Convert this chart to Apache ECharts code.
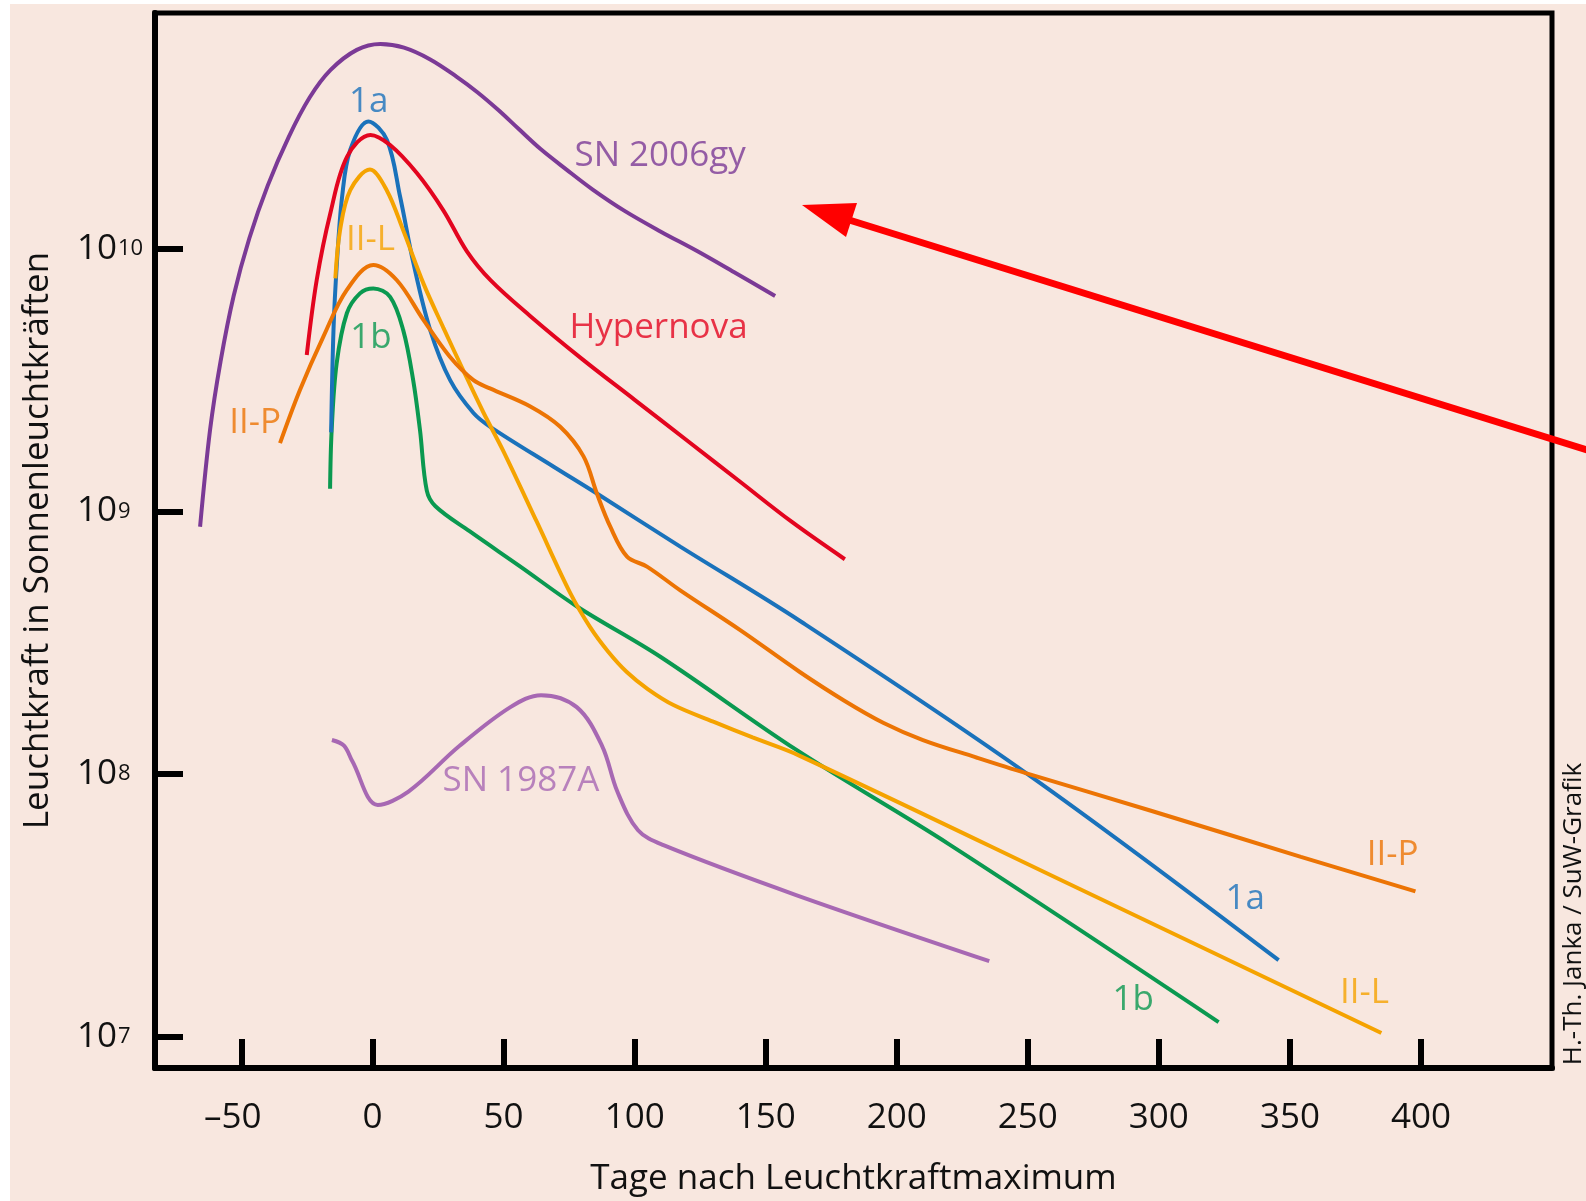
<!DOCTYPE html>
<html lang="de">
<head>
<meta charset="UTF-8">
<title>Lichtkurven von Supernovae</title>
<script src="https://cdn.jsdelivr.net/npm/echarts@6.0.0/dist/echarts.min.js"></script>
<style>
  html, body { margin: 0; padding: 0; background: #fff; }
  #chart { width: 1586px; height: 1201px; }
</style>
</head>
<body>
<div id="chart"></div>
<script>
// Tage nach Maximum / Leuchtkraft in Sonnenleuchtkraeften
var sn2006gyDays = [-65.8, -62, -58, -53, -47, -40, -32, -24, -16, -6, 3, 12, 22, 32, 40, 48, 56, 64, 74, 84, 96, 110, 124, 138, 153.6];
var sn2006gyLum = [8.75e8, 2.04e9, 3.72e9, 6.61e9, 1.096e10, 1.738e10, 2.66e10, 3.76e10, 4.79e10, 5.71e10, 6.01e10, 5.82e10, 5.25e10, 4.52e10, 3.94e10, 3.37e10, 2.84e10, 2.4e10, 2.0e10, 1.679e10, 1.396e10, 1.161e10, 9.77e9, 8.13e9, 6.61e9];

var hypernovaDays = [-25.1, -21.3, -16.1, -9.7, -0.8, 6.7, 16.9, 27, 36, 45, 60, 80, 100, 120, 140, 160, 180.2];
var hypernovaLum = [3.94e9, 7.6e9, 1.365e10, 2.24e10, 2.71e10, 2.48e10, 1.94e10, 1.4e10, 9.77e9, 7.59e9, 5.56e9, 3.8e9, 2.66e9, 1.862e9, 1.303e9, 9.12e8, 6.58e8];

var ia1Days = [-15.8, -14.9, -13.6, -11.6, -8.5, -1.6, 5.5, 10.5, 15.6, 22, 29.6, 38.5, 44.9, 69.1, 85.6, 117.4, 163.1, 251.1, 345.7];
var ia1Lum = [2.0e9, 4.9e9, 8.81e9, 1.58e10, 2.38e10, 3.05e10, 2.59e10, 1.58e10, 8.81e9, 4.9e9, 3.16e9, 2.37e9, 2.1e9, 1.48e9, 1.17e9, 7.35e8, 3.83e8, 9.82e7, 1.96e7];

var iilDays = [-14.2, -12.4, -8.5, -1, 5.4, 11.7, 19.4, 27, 34.7, 42.4, 50, 62.7, 75.4, 83, 90, 97, 105, 115, 130, 145, 163, 270, 384.9];
var iilLum = [7.71e9, 1.175e10, 1.67e10, 2.0e10, 1.67e10, 1.175e10, 7.38e9, 5.01e9, 3.43e9, 2.37e9, 1.69e9, 9.12e8, 4.9e8, 3.63e8, 2.92e8, 2.45e8, 2.11e8, 1.83e8, 1.585e8, 1.38e8, 1.175e8, 3.65e7, 1.035e7];

var iipDays = [-35.3, -27.7, -18.8, -9.8, 0.3, 9.2, 19.4, 29.5, 38.5, 44.8, 60.2, 71.6, 80.5, 85.6, 90.7, 97.1, 104.7, 117.4, 140, 163, 180, 195, 210, 230, 249.2, 297, 354.2, 397.9];
var iipLum = [1.82e9, 2.9e9, 4.62e9, 6.97e9, 8.67e9, 7.6e9, 5.36e9, 3.88e9, 3.16e9, 2.94e9, 2.51e9, 2.1e9, 1.62e9, 1.17e9, 8.75e8, 6.73e8, 6.17e8, 5.01e8, 3.55e8, 2.45e8, 1.905e8, 1.567e8, 1.349e8, 1.161e8, 1.01e8, 7.26e7, 4.85e7, 3.58e7];

var ib1Days = [-16.2, -15.6, -13.7, -9.8, -4.8, 0.3, 6.7, 11.7, 15.5, 18.1, 20.7, 24, 37, 56.4, 78, 109.8, 161.6, 220, 322.8];
var ib1Lum = [1.22e9, 2.04e9, 3.66e9, 5.68e9, 6.76e9, 7.06e9, 6.56e9, 4.9e9, 3.16e9, 2.04e9, 1.2e9, 1.047e9, 8.41e8, 6.17e8, 4.35e8, 2.8e8, 1.24e8, 5.41e7, 1.14e7];

var sn1987aDays = [-15.5, -10.9, -7.7, 2.0, 13.7, 33.1, 52.6, 64.3, 77.9, 87.6, 93.4, 101.3, 111, 161.6, 235.3];
var sn1987aLum = [1.35e8, 1.285e8, 1.12e8, 7.64e7, 8.59e7, 1.28e8, 1.8e8, 2.0e8, 1.8e8, 1.28e8, 8.59e7, 6.12e7, 5.37e7, 3.47e7, 1.945e7];

// Beschriftungen an den Kurven
var labelNames = ['1a', 'SN 2006gy', 'II-L', 'Hypernova', '1b', 'II-P', 'SN 1987A', 'II-P', '1a', '1b', 'II-L'];
var labelDays = [-1.5, 109.7, -0.8, 109.1, -0.6, -44.8, 56.6, 389.2, 333, 290.2, 378.5];
var labelLum = [3.6e10, 2.26e10, 1.078e10, 4.98e9, 4.58e9, 2.17e9, 9.4e7, 4.93e7, 3.36e7, 1.383e7, 1.471e7];

var dayTicks = [-50, 0, 50, 100, 150, 200, 250, 300, 350, 400];
var lumExponents = [7, 8, 9, 10];

var colors = {
  'SN 2006gy': '#7B3A96',
  'Hypernova': '#E3051F',
  '1a': '#1A72BB',
  'II-L': '#F5A300',
  'II-P': '#EC7404',
  '1b': '#0A9950',
  'SN 1987A': '#A768B3'
};

var font = 'Open Sans';
var lumMin = Math.pow(10, 6.882);
var lumMax = Math.pow(10, 10.897);

function pairs(xs, ys) {
  return xs.map(function (x, i) { return [x, ys[i]]; });
}

// Exponent, falls v eine der beschrifteten Zehnerpotenzen ist
function exponentOf(v) {
  var e = Math.log10(v);
  var r = Math.round(e);
  if (Math.abs(e - r) > 1e-6 || lumExponents.indexOf(r) < 0) return null;
  return r;
}

function curve(name, xs, ys) {
  return {
    name: name,
    type: 'line',
    smooth: 0.35,
    showSymbol: false,
    silent: true,
    lineStyle: { color: colors[name], width: 4 },
    data: pairs(xs, ys)
  };
}

var chart = echarts.init(document.getElementById('chart'));

var option = {
  backgroundColor: '#F8E7DF',
  animation: false,
  textStyle: { fontFamily: font },
  grid: {
    left: 155, top: 13, right: 34, bottom: 133,
    show: true, borderColor: '#000', borderWidth: 5,
    outerBoundsMode: 'none'
  },
  xAxis: {
    type: 'value',
    min: -83,
    max: 450,
    name: 'Tage nach Leuchtkraftmaximum',
    nameLocation: 'middle',
    nameGap: 94,
    nameTextStyle: { fontSize: 35, color: '#111', fontFamily: font },
    axisLine: { show: true, onZero: false, lineStyle: { color: '#000', width: 6 } },
    axisTick: { show: true, inside: true, length: 29, customValues: dayTicks, lineStyle: { color: '#000', width: 6 } },
    axisLabel: {
      customValues: dayTicks,
      margin: 33,
      fontSize: 35,
      color: '#111',
      fontFamily: font,
      // das Minuszeichen haengt links vor der Zahl
      formatter: function (v) { return v < 0 ? '\u2013' + Math.abs(v) + '{g|\u2013}' : String(v); },
      rich: { g: { fontSize: 35, fontFamily: font, color: 'rgba(0,0,0,0)' } }
    },
    splitLine: { show: false }
  },
  yAxis: [
    {
      type: 'log',
      logBase: 10,
      min: lumMin,
      max: lumMax,
      position: 'left',
      name: 'Leuchtkraft in Sonnenleuchtkr\u00e4ften',
      nameLocation: 'middle',
      nameGap: 99,
      nameTextStyle: { fontSize: 35, color: '#111', fontFamily: font },
      axisLine: { show: true, onZero: false, lineStyle: { color: '#000', width: 6 } },
      axisTick: { show: true, inside: true, length: 28, lineStyle: { color: '#000', width: 6 } },
      axisLabel: {
        margin: 38,
        fontSize: 35,
        fontFamily: font,
        color: '#111',
        padding: [3, 0, 0, 0],
        showMinLabel: false,
        showMaxLabel: false,
        formatter: function (v) { return exponentOf(v) === null ? '' : '10'; }
      },
      splitLine: { show: false },
      minorTick: { show: false }
    },
    {
      // nur fuer die hochgestellten Exponenten
      type: 'log',
      logBase: 10,
      min: lumMin,
      max: lumMax,
      position: 'left',
      offset: 0,
      axisLine: { show: false, onZero: false },
      axisTick: { show: false },
      splitLine: { show: false },
      minorTick: { show: false },
      axisLabel: {
        margin: 37,
        align: 'left',
        fontSize: 22,
        fontFamily: font,
        color: '#111',
        padding: [0, 0, 9, 0],
        showMinLabel: false,
        showMaxLabel: false,
        formatter: function (v) { var r = exponentOf(v); return r === null ? '' : String(r); }
      }
    }
  ],
  series: [
    curve('SN 1987A', sn1987aDays, sn1987aLum),
    curve('1b', ib1Days, ib1Lum),
    curve('1a', ia1Days, ia1Lum),
    curve('II-L', iilDays, iilLum),
    curve('II-P', iipDays, iipLum),
    curve('Hypernova', hypernovaDays, hypernovaLum),
    curve('SN 2006gy', sn2006gyDays, sn2006gyLum),
    {
      name: 'labels',
      type: 'scatter',
      symbolSize: 1,
      silent: true,
      z: 5,
      itemStyle: { color: 'transparent' },
      data: labelNames.map(function (t, i) {
        return {
          value: [labelDays[i], labelLum[i]],
          label: {
            show: true,
            position: 'inside',
            formatter: t,
            color: colors[t],
            fontSize: 35,
            fontFamily: font
          }
        };
      })
    }
  ],
  graphic: [
    // weisse Raender des Scans
    { type: 'rect', left: 0, top: 0, z: 1, shape: { width: 10, height: 1201 }, style: { fill: '#fff' } },
    { type: 'rect', left: 0, top: 0, z: 1, shape: { width: 1586, height: 4 }, style: { fill: '#fff' } },
    // roter Pfeil
    { type: 'line', z: 20, shape: { x1: 1600, y1: 454, x2: 846, y2: 219 }, style: { stroke: '#FF0000', lineWidth: 7 } },
    { type: 'polygon', z: 20, shape: { points: [[802, 205], [857, 203], [846, 237]] }, style: { fill: '#FF0000' } },
    // Quelle
    {
      type: 'text', z: 20, x: 1574, y: 914, rotation: Math.PI / 2,
      style: { text: 'H.-Th. Janka / SuW-Grafik', fontSize: 26, fontFamily: font, fill: '#111', align: 'center', verticalAlign: 'middle' }
    }
  ]
};

chart.setOption(option);
</script>
</body>
</html>
